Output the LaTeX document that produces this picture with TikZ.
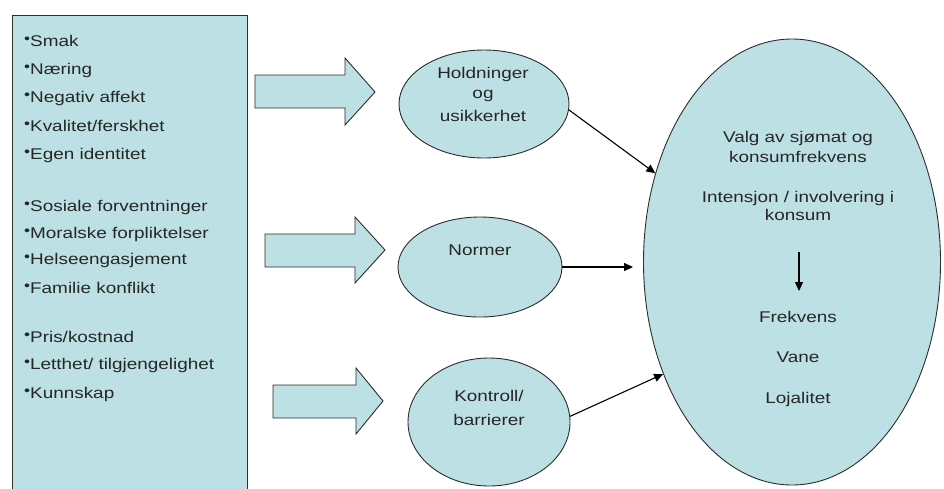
\documentclass[tikz,border=0pt]{standalone}
\usepackage{fontspec}
\setmainfont[FakeStretch=1.22]{Liberation Sans}
\usetikzlibrary{shapes.geometric,arrows.meta}
\definecolor{boxfill}{RGB}{188,224,228}
\definecolor{edge}{RGB}{45,45,45}
\definecolor{ink}{RGB}{38,38,38}
\tikzset{
  base/.style={font=\fontsize{15.5}{17}\selectfont, text=ink},
  item/.style={base, anchor=base west, inner sep=0pt},
  ctext/.style={base, anchor=base, inner sep=0pt, align=center},
  oval/.style={ellipse, draw=edge, line width=0.9pt, fill=boxfill, inner sep=0pt},
  blockarrow/.style={draw=edge, line width=0.9pt, fill=boxfill, line join=miter},
  conn/.style={draw=black, line width=1.1pt, -{Triangle[length=9pt,width=8pt]}}
}
\newcommand{\bul}{{\fontsize{14}{14}\selectfont\raisebox{2.2pt}{•}}}
\begin{document}
\begin{tikzpicture}[x=1pt,y=-1pt]
\clip (0,0) rectangle (944,488);
\fill[white] (0,0) rectangle (944,488);
% left box
\draw[draw=edge, line width=0.9pt, fill=boxfill] (12,15) rectangle (247,500);
\node[item] (i1) at (24,46) {\bul Smak};
\node[item] (i2) at (24,74) {\bul Næring};
\node[item] (i3) at (24,102) {\bul Negativ affekt};
\node[item] (i4) at (24,131) {\bul Kvalitet/ferskhet};
\node[item] (i5) at (24,159) {\bul Egen identitet};
\node[item] (i6) at (24,211) {\bul Sosiale forventninger};
\node[item] (i7) at (24,238) {\bul Moralske forpliktelser};
\node[item] (i8) at (24,264) {\bul Helseengasjement};
\node[item] (i9) at (24,293) {\bul Familie konflikt};
\node[item] (i10) at (24,342) {\bul Pris/kostnad};
\node[item] (i11) at (24,369) {\bul Letthet/ tilgjengelighet};
\node[item] (i12) at (24,398) {\bul Kunnskap};
% block arrows
\path[blockarrow] (255,75) -- (345,75) -- (345,58) -- (375,92) -- (345,125) -- (345,108) -- (255,108) -- cycle;
\path[blockarrow] (265,234) -- (355,234) -- (355,217) -- (385,250) -- (355,283) -- (355,267) -- (265,267) -- cycle;
\path[blockarrow] (273,385) -- (356,385) -- (356,368) -- (383,401) -- (356,434) -- (356,418) -- (273,418) -- cycle;
% ellipses
\node[oval, minimum width=170pt, minimum height=108pt] (e1) at (484,104) {};
\node[oval, minimum width=164pt, minimum height=100pt] (e2) at (480,267) {};
\node[oval, minimum width=162pt, minimum height=128pt] (e3) at (489,422) {};
\node[oval, minimum width=297pt, minimum height=446pt] (big) at (792,262) {};
% ellipse texts
\node[ctext] (t1a) at (483,78) {Holdninger};
\node[ctext] (t1b) at (483,98) {og};
\node[ctext] (t1c) at (483,121) {usikkerhet};
\node[ctext] (t2) at (480,255) {Normer};
\node[ctext] (t3a) at (489,401) {Kontroll/};
\node[ctext] (t3b) at (489,425) {barrierer};
\node[ctext] (b1) at (798,142) {Valg av sjømat og};
\node[ctext] (b2) at (798,162) {konsumfrekvens};
\node[ctext] (b3) at (798,202) {Intensjon / involvering i};
\node[ctext] (b4) at (798,220) {konsum};
\node[ctext] (b5) at (798,322) {Frekvens};
\node[ctext] (b6) at (798,362) {Vane};
\node[ctext] (b7) at (798,403) {Lojalitet};
\coordinate (da) at (799,252);
\coordinate (db) at (799,291);
\draw[conn] (da) -- (db);
% connectors
\draw[conn] (e1.-4) -- (big.147);
\draw[conn, shorten >=10pt] (e2.east) -- (e2.east -| big.west);
\draw[conn] (e3.4) -- (big.221);
\end{tikzpicture}
\end{document}
